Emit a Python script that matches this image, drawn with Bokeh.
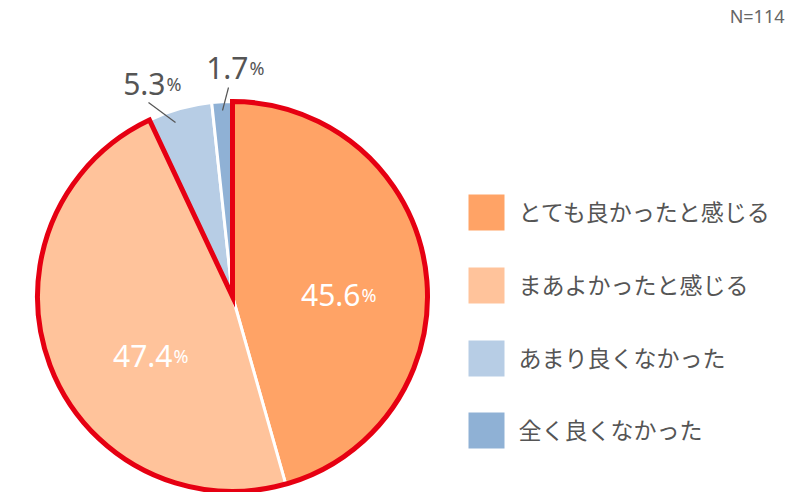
import numpy as np
from bokeh.plotting import figure
from bokeh.models import ColumnDataSource, Range1d
from bokeh.core.properties import value
from bokeh.embed import file_html
from bokeh.resources import INLINE

categories = ["とても良かったと感じる", "まあよかったと感じる", "あまり良くなかった", "全く良くなかった"]
values = [45.6, 47.4, 5.3, 1.7]
pct_labels = ["45.6", "47.4", "5.3", "1.7"]
n_label = "N=114"

colors = ["#FFA366", "#FFC39B", "#B7CDE5", "#8FB1D5"]
FONT = "Noto Sans CJK JP"
NUMFONT = "Noto Sans"
GRAY = "#555555"

W, H = 792, 492
p = figure(width=W, height=H, output_backend="svg", toolbar_location=None,
           x_range=Range1d(0, W), y_range=Range1d(0, H), min_border=0)
p.axis.visible = False
p.grid.visible = False
p.outline_line_color = None
p.background_fill_color = "white"

cx, cy, R = 232, 196, 195
frac = np.array(values) / sum(values)
cum = np.concatenate([[0], np.cumsum(frac)])
starts = np.pi / 2 - 2 * np.pi * cum[1:]
ends = np.pi / 2 - 2 * np.pi * cum[:-1]

src = ColumnDataSource(dict(start=starts, end=ends, color=colors))
p.wedge(x=cx, y=cy, radius=R, start_angle="start", end_angle="end",
        fill_color="color", line_color="white", line_width=3, source=src)

# red outline around the positive answers
p.wedge(x=cx, y=cy, radius=R, start_angle=starts[1], end_angle=ends[0],
        fill_color=None, line_color="#E60012", line_width=5, line_join="miter")

# percentage labels (anchor = boundary between number and %)
lab_x = [360, 172, 165, 248]
lab_y = [198, 137, 409, 425]
lab_col = ["white", "white", GRAY, GRAY]
ls = ColumnDataSource(dict(x=lab_x, y=lab_y, t=pct_labels, c=lab_col, pc=["%"] * 4))
p.text(x="x", y="y", text="t", text_color="c", text_align="right", text_baseline="alphabetic",
       text_font=value(NUMFONT), text_font_size="30px", source=ls)
p.text(x="x", y="y", text="pc", text_color="c", text_align="left", text_baseline="alphabetic",
       text_font=value(NUMFONT), text_font_size="18px", source=ls, x_offset=1)

# leader lines
p.segment(x0=[148, 228], y0=[390, 405], x1=[175, 222], y1=[370, 382], line_color=GRAY, line_width=1.2)

# legend
leg_y = [280, 207, 134, 62]
p.rect(x=[486] * 4, y=leg_y, width=36, height=36, fill_color=colors, line_color=None)
p.text(x=[518] * 4, y=[v + 2 for v in leg_y], text=categories, text_color=GRAY, text_align="left",
       text_baseline="middle", text_font=value(FONT), text_font_size="23px")

p.text(x=[784], y=[477], text=[n_label], text_color="#666666", text_align="right",
       text_baseline="middle", text_font=value(NUMFONT), text_font_size="18px")

open("out.html", "w").write(file_html(p, INLINE))
